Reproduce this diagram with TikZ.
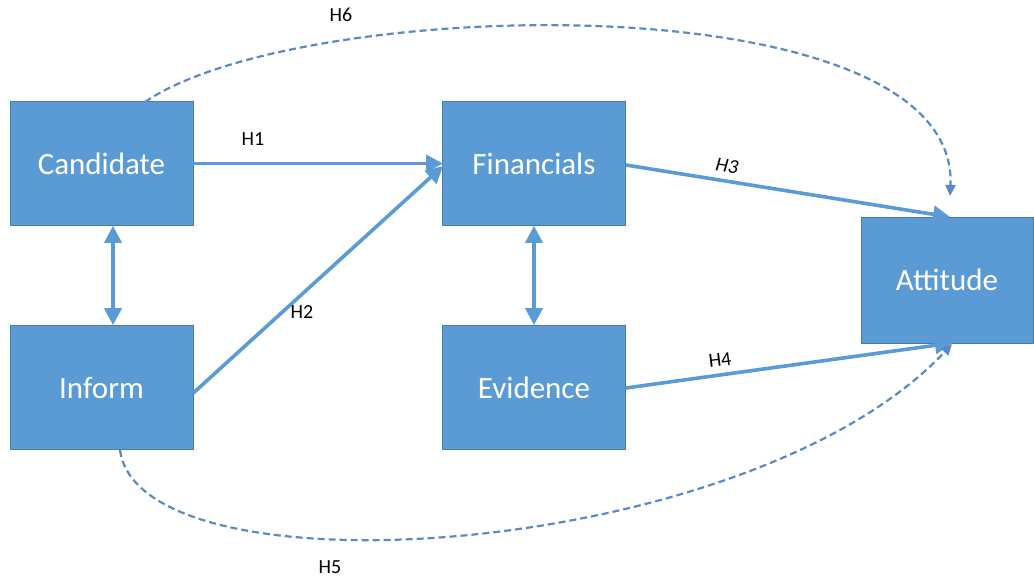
\documentclass[tikz,border=0pt]{standalone}
\usepackage{fontspec}
\setmainfont{Carlito}
\usetikzlibrary{arrows.meta}
\definecolor{boxblue}{HTML}{5B9BD5}
\definecolor{dashblue}{HTML}{5A8AC6}
\begin{document}
\begin{tikzpicture}[x=1pt,y=-1pt,
  box/.style={draw=boxblue!80!black, line width=0.6pt, fill=boxblue, text=white,
    minimum width=183pt, minimum height=124pt, inner sep=0pt,
    font=\fontsize{31}{34}\selectfont},
  link/.style={draw=boxblue, line width=3.6pt, -{Triangle[length=17pt,width=17pt]}},
  both/.style={draw=boxblue, line width=3.6pt, {Triangle[length=17pt,width=17pt]}-{Triangle[length=17pt,width=17pt]}},
  dlink/.style={draw=dashblue, line width=2.2pt, dash pattern=on 7pt off 4pt, -{Triangle[length=11pt,width=10pt]}},
  lab/.style={font=\fontsize{20}{22}\selectfont, text=black, inner sep=1pt}]
\useasboundingbox (0,0) rectangle (1034,580);
\node[box] (cand) at (101.5,163.5) {Candidate};
\node[box] (inf) at (101.5,387.5) {Inform};
\node[box] (fin) at (534,163.5) {Financials};
\node[box] (evi) at (534,387.5) {Evidence};
\node[box, minimum width=172pt, minimum height=126pt] (att) at (947,280) {Attitude};
% named end points on the box borders
\coordinate (finH1) at (443,163.5);
\coordinate (finH2) at (443,166);
\coordinate (attT) at (950,217);
\coordinate (attB) at (952,343);
\coordinate (candT) at (145,102);
\coordinate (infB) at (120,450);
\coordinate (attT6) at (950,196);
\coordinate (attB5) at (952,344);
% hypothesis paths
\draw[link] (cand.east) -- (finH1);
\draw[link] (inf.east |- 0,393) -- (finH2);
\draw[link] (fin.east |- 0,165) -- (attT);
\draw[link] (evi.east |- 0,388) -- (attB);
\draw[both] (cand.south -| 113,0) -- (inf.north -| 113,0);
\draw[both] (fin.south) -- (evi.north);
\draw[dlink] (candT) .. controls (300,-5) and (960,-20) .. (attT6);
\draw[dlink] (infB) .. controls (140,600) and (750,560) .. (attB5);
% labels
\node[lab] (h1) at (253,139) {H1};
\node[lab] (h2) at (302,312) {H2};
\node[lab, rotate=-9] (h3) at (727,166) {\itshape H3};
\node[lab, rotate=7] (h4) at (720,360) {H4};
\node[lab] (h5) at (330,567) {H5};
\node[lab] (h6) at (341,15) {H6};
\end{tikzpicture}
\end{document}
